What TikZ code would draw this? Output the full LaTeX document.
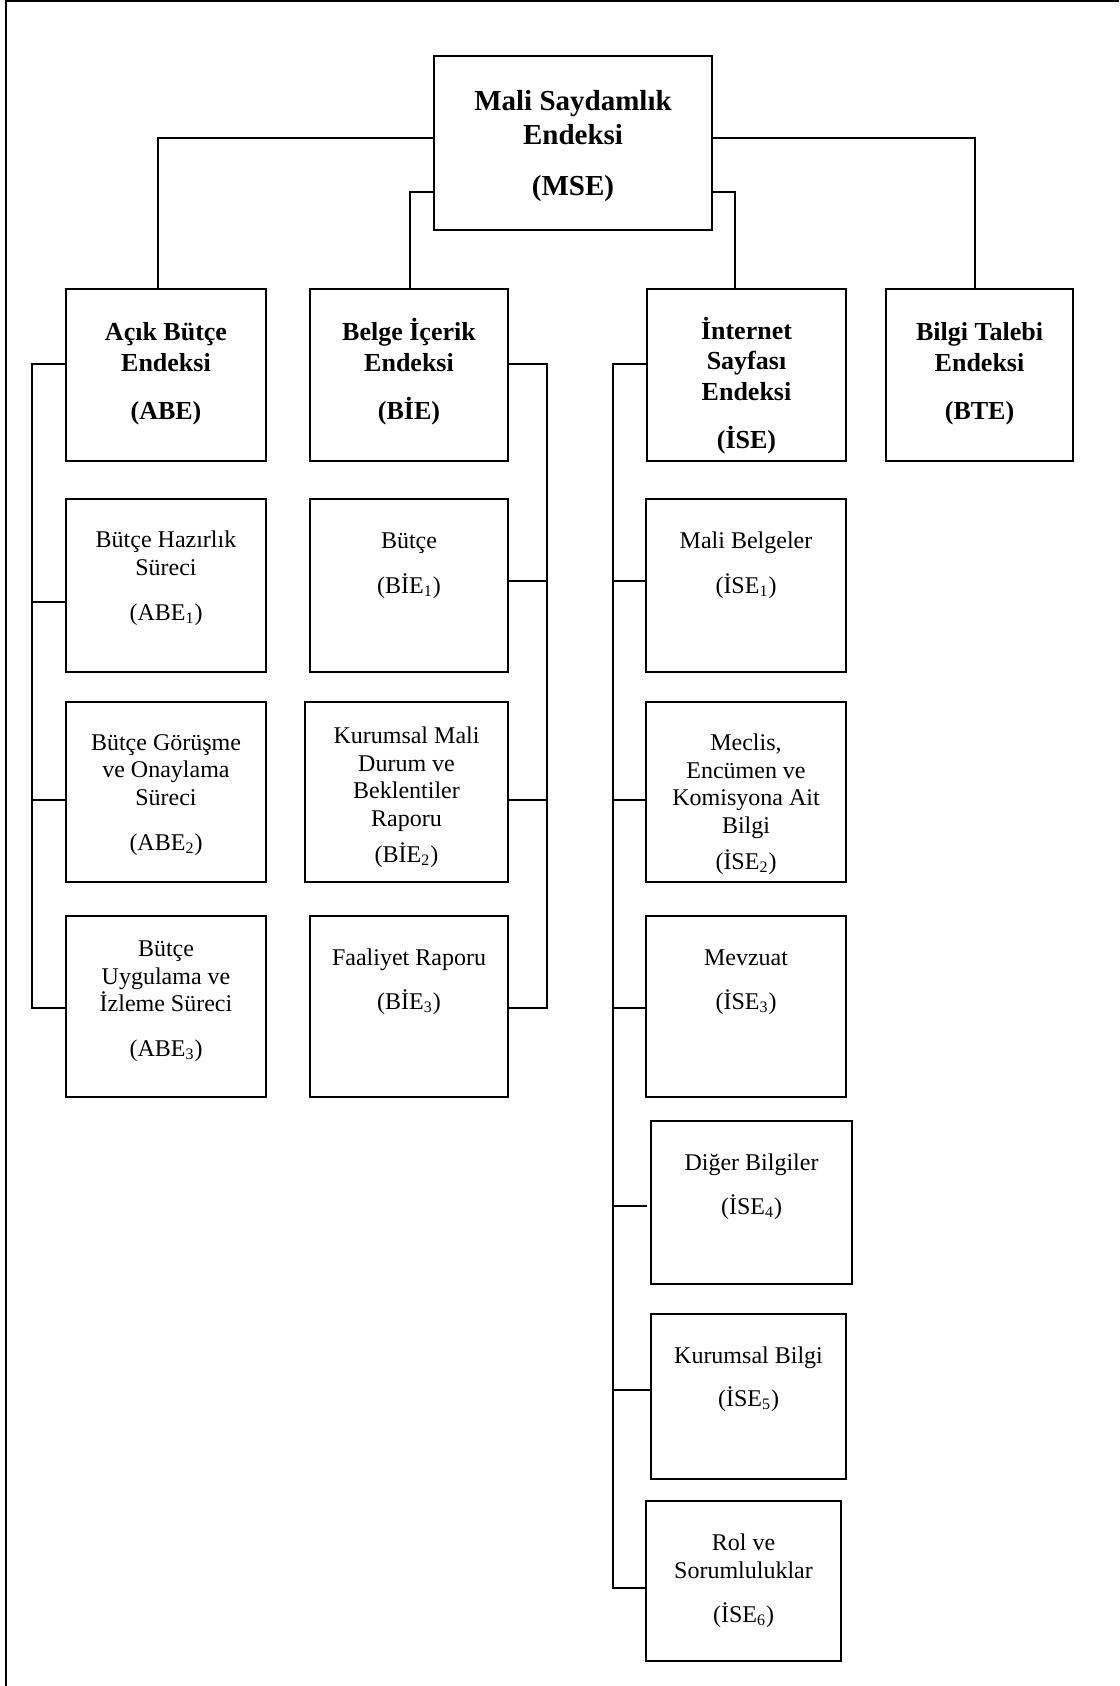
\documentclass[tikz,border=0pt]{standalone}
\usepackage{fontspec}
\setmainfont{Liberation Serif}
\begin{document}
\begin{tikzpicture}[x=0.5pt,y=-0.5pt,
  boxst/.style={draw, line width=0.9pt, rectangle, inner sep=0pt},
  link/.style={line width=0.85pt},
  frame/.style={line width=1pt},
  mainttl/.style={font=\bfseries\fontsize{14.5}{17}\selectfont, align=center, anchor=base},
  ttl/.style={font=\bfseries\fontsize{13}{15.25}\selectfont, align=center, anchor=base},
  txt/.style={font=\fontsize{12}{13.75}\selectfont, align=center, anchor=base}]
\useasboundingbox (0,0) rectangle (1119,1686);

% page frame: top and left edges
\draw[frame] (1119,1) -- (6,1) -- (6,1686);

% box helper: name, x1, y1, x2, y2
\newcommand\mkbox[5]{\node[boxst, minimum width={(#4-#2)*0.5pt}, minimum height={(#5-#3)*0.5pt}] (#1) at ({(#2+#4)/2},{(#3+#5)/2}) {};}

\mkbox{mse}{434}{56}{712}{230}
\mkbox{abe}{66}{289}{266}{461}
\mkbox{bie}{310}{289}{508}{461}
\mkbox{ise}{647}{289}{846}{461}
\mkbox{bte}{886}{289}{1073}{461}
\mkbox{abe1}{66}{499}{266}{672}
\mkbox{abe2}{66}{702}{266}{882}
\mkbox{abe3}{66}{916}{266}{1097}
\mkbox{bie1}{310}{499}{508}{672}
\mkbox{bie2}{305}{702}{508}{882}
\mkbox{bie3}{310}{916}{508}{1097}
\mkbox{ise1}{646}{499}{846}{672}
\mkbox{ise2}{646}{702}{846}{882}
\mkbox{ise3}{646}{916}{846}{1097}
\mkbox{ise4}{651}{1121}{852}{1284}
\mkbox{ise5}{651}{1314}{846}{1479}
\mkbox{ise6}{646}{1501}{841}{1661}

% labels (anchored at the baseline of the last line)
\node[mainttl] (t-mse) at (573,195) {Mali Saydamlık\\Endeksi\\[8.5pt](MSE)};
\node[ttl] (t-abe) at (166,419) {Açık Bütçe\\Endeksi\\[8.75pt](ABE)};
\node[ttl] (t-bie) at (409,419) {Belge İçerik\\Endeksi\\[8.75pt](BİE)};
\node[ttl] (t-ise) at (746.5,448) {İnternet\\Sayfası\\Endeksi\\[8.75pt](İSE)};
\node[ttl] (t-bte) at (979.5,419) {Bilgi Talebi\\Endeksi\\[8.75pt](BTE)};

\node[txt] (t-abe1) at (166,620) {Bütçe Hazırlık\\Süreci\\[8.75pt](ABE\textsubscript{1})};
\node[txt] (t-abe2) at (166,850) {Bütçe Görüşme\\ve Onaylama\\Süreci\\[8.75pt](ABE\textsubscript{2})};
\node[txt] (t-abe3) at (166,1056) {Bütçe\\Uygulama ve\\İzleme Süreci\\[8.5pt](ABE\textsubscript{3})};
\node[txt] (t-bie1) at (409,593) {Bütçe\\[8.75pt](BİE\textsubscript{1})};
\node[txt] (t-bie2) at (406.5,862) {Kurumsal Mali\\Durum ve\\Beklentiler\\Raporu\\[4.25pt](BİE\textsubscript{2})};
\node[txt] (t-bie3) at (409,1009) {Faaliyet Raporu\\[8pt](BİE\textsubscript{3})};
\node[txt] (t-ise1) at (746,593) {Mali Belgeler\\[8.75pt](İSE\textsubscript{1})};
\node[txt] (t-ise2) at (746,869) {Meclis,\\Encümen ve\\Komisyona Ait\\Bilgi\\[4.25pt](İSE\textsubscript{2})};
\node[txt] (t-ise3) at (746,1009) {Mevzuat\\[8pt](İSE\textsubscript{3})};
\node[txt] (t-ise4) at (751.5,1214) {Diğer Bilgiler\\[8.25pt](İSE\textsubscript{4})};
\node[txt] (t-ise5) at (748.5,1406) {Kurumsal Bilgi\\[7.75pt](İSE\textsubscript{5})};
\node[txt] (t-ise6) at (743.5,1622) {Rol ve\\Sorumluluklar\\[8.25pt](İSE\textsubscript{6})};

% top-level joins
\coordinate (jl) at (158,138);
\coordinate (jr) at (975,138);
\coordinate (jil) at (410,192);
\coordinate (jir) at (735,192);
\draw[link] (mse.west |- jl) -| (abe.north -| jl);
\draw[link] (mse.east |- jr) -| (bte.north -| jr);
\draw[link] (mse.west |- jil) -| (bie.north -| jil);
\draw[link] (mse.east |- jir) -| (ise.north -| jir);

% ABE bracket
\coordinate (a0) at (32,364);
\coordinate (a1) at (32,602);
\coordinate (a2) at (32,800);
\coordinate (a3) at (32,1008);
\draw[link] (abe.west |- a0) -- (a0) -- (a3) -- (a3 -| abe3.west);
\draw[link] (a1) -- (a1 -| abe1.west);
\draw[link] (a2) -- (a2 -| abe2.west);

% BIE bracket
\coordinate (b0) at (547,364);
\coordinate (b1) at (547,581);
\coordinate (b2) at (547,800);
\coordinate (b3) at (547,1008);
\draw[link] (bie.east |- b0) -- (b0) -- (b3) -- (b3 -| bie3.east);
\draw[link] (b1) -- (b1 -| bie1.east);
\draw[link] (b2) -- (b2 -| bie2.east);

% ISE bracket
\coordinate (i0) at (613,364);
\coordinate (i1) at (613,581);
\coordinate (i2) at (613,800);
\coordinate (i3) at (613,1008);
\coordinate (i4) at (613,1206);
\coordinate (i4e) at (647,1206);
\coordinate (i5) at (613,1390);
\coordinate (i6) at (613,1588);
\draw[link] (ise.west |- i0) -- (i0) -- (i6) -- (i6 -| ise6.west);
\draw[link] (i1) -- (i1 -| ise1.west);
\draw[link] (i2) -- (i2 -| ise2.west);
\draw[link] (i3) -- (i3 -| ise3.west);
\draw[link] (i4) -- (i4e);
\draw[link] (i5) -- (i5 -| ise5.west);
\end{tikzpicture}
\end{document}
